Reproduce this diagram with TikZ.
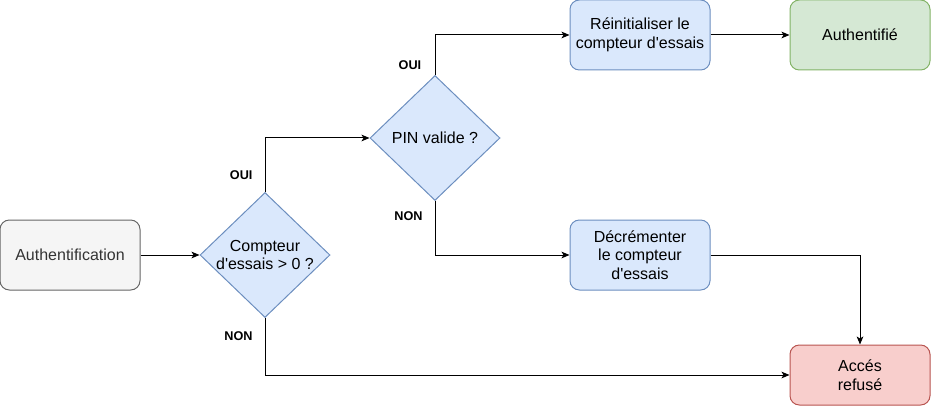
\documentclass[tikz,border=0pt]{standalone}
\usepackage{fontspec}
\setmainfont{Liberation Sans}
\usetikzlibrary{shapes,shapes.geometric,arrows.meta}

\definecolor{grisfond}{HTML}{F5F5F5}
\definecolor{gristrait}{HTML}{666666}
\definecolor{gristexte}{HTML}{333333}
\definecolor{bleufond}{HTML}{DAE8FC}
\definecolor{bleutrait}{HTML}{6C8EBF}
\definecolor{vertfond}{HTML}{D5E8D4}
\definecolor{verttrait}{HTML}{82B366}
\definecolor{rougefond}{HTML}{F8CECC}
\definecolor{rougetrait}{HTML}{B85450}

\begin{document}
\begin{tikzpicture}[x=0.75pt, y=-0.75pt, ->, line width=0.75pt,
        >={Stealth[length=6pt,width=5pt,inset=1.5pt]},
        every node/.append style={font=\fontsize{12}{14}\selectfont}]
      \tikzstyle{bloc} = [rectangle, rounded corners=7pt, align=center,
        minimum width=105pt, minimum height=52.5pt]
      \tikzstyle{decision} = [diamond, draw=bleutrait, fill=bleufond, aspect=1.04,
        inner sep=0pt, minimum width=97.5pt, minimum height=93.75pt]
      \tikzstyle{lbl} = [font=\fontsize{9.5}{11}\selectfont\bfseries, inner sep=0pt]
      \useasboundingbox (0,0) rectangle (931,406);
      \node (auth) [bloc, draw=gristrait, fill=grisfond, text=gristexte] at (70,255) {Authentification};
      \node (essais) [decision, label={[align=center]center:Compteur\\d\textquotesingle essais > 0 ?}] at (265,255) {};
      \node (pin) [decision, label={center:PIN valide ?}] at (435,138) {};
      \node (reinit) [bloc, draw=bleutrait, fill=bleufond] at (640,35) {R\'einitialiser le\\compteur d\textquotesingle essais};
      \node (ok) [bloc, draw=verttrait, fill=vertfond] at (860,35) {Authentifi\'e};
      \node (decr) [bloc, draw=bleutrait, fill=bleufond] at (640,255) {D\'ecr\'ementer\\le compteur\\d\textquotesingle essais};
      \node (refus) [bloc, draw=rougetrait, fill=rougefond, minimum height=45pt] at (860,375) {Acc\'es\\refus\'e};
      \draw (auth) -- (essais);
      \draw (essais.north) |- node [lbl, pos=0.16, left=9pt] (oui1) {OUI} (pin.west);
      \draw (essais.south) |- node [lbl, pos=0.155, left=9pt] (non1) {NON} (refus.west);
      \draw (pin.north) |- node [lbl, pos=0.125, left=10pt] (oui2) {OUI} (reinit.west);
      \draw (pin.south) |- node [lbl, pos=0.136, left=9pt] (non2) {NON} (decr.west);
      \draw (reinit) -- (ok);
      \draw (decr.east) -| (refus.north);
    \end{tikzpicture}
\end{document}
